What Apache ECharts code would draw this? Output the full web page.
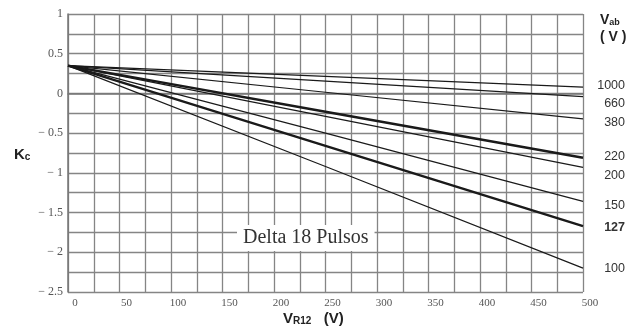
<!DOCTYPE html>
<html><head><meta charset="utf-8">
<script src="https://cdn.jsdelivr.net/npm/echarts@6/dist/echarts.min.js"></script>
<style>html,body{margin:0;padding:0;background:#fff}#c{width:637px;height:328px}</style>
</head><body><div id="c"></div>
<script>
const xVals = [0, 250, 500];
const vabNames = ['1000','660','380','220','200','150','127','100'];
const k1000 = [0.35, 0.215, 0.08];
const k660  = [0.35, 0.155, -0.04];
const k380  = [0.35, 0.015, -0.32];
const k220  = [0.35, -0.23, -0.81];
const k200  = [0.35, -0.29, -0.93];
const k150  = [0.35, -0.50, -1.36];
const k127  = [0.35, -0.66, -1.67];
const k100  = [0.35, -0.92, -2.20];
const seriesVals = [k1000,k660,k380,k220,k200,k150,k127,k100];
const boldSet = ['220','127'];
const labelDy = [-2, 7, 4, -1, 8, 4, 1, 0];

const chart = echarts.init(document.getElementById('c'));
const series = vabNames.map((n,i)=>({
  name:n, type:'line', symbol:'none', animation:false,
  data: xVals.map((x,j)=>[x, seriesVals[i][j]]),
  lineStyle:{color:'#1a1a1a', width: boldSet.includes(n)?2.4:1.2},
  endLabel:{show:true, formatter:'{a}', align:'right', distance:0, offset:[42, labelDy[i]],
    fontFamily:'Liberation Sans', fontSize:12.5, color:'#333', fontWeight: n==='127'?'bold':'normal'}
}));
chart.setOption({
  backgroundColor:'#fff',
  animation:false,
  grid:{left:68, right:54, top:14, bottom:36},
  xAxis:{type:'value', min:0, max:500, interval:25,
    axisLine:{show:true, lineStyle:{color:'#777', width:1.5}},
    axisTick:{show:false},
    splitLine:{show:true, lineStyle:{color:'#858585', width:1.3}},
    axisLabel:{fontFamily:'Liberation Serif', fontSize:11, color:'#555', margin:6,
      padding:[0,0,0,14],
      formatter:v=> (v%50===0)? String(v):''}},
  yAxis:{type:'value', min:-2.5, max:1, interval:0.25,
    axisLine:{show:true, lineStyle:{color:'#777', width:1.5}},
    axisTick:{show:false},
    splitLine:{show:true, lineStyle:{color:'#858585', width:1.3}},
    axisLabel:{fontFamily:'Liberation Serif', fontSize:12, color:'#555', margin:5,
      formatter:v=>{ if (Math.abs(v*2-Math.round(v*2))>1e-6) return ''; return v<0? '− '+String(-v): String(v);}}},
  series: series,
  graphic:[
    {type:'text', left:237, top:225, z:100,
      style:{text:'Delta 18 Pulsos', font:'20px "Liberation Serif"', fill:'#333',
        backgroundColor:'#fff', padding:[3,6,3,6]}},
    {type:'text', left:14, top:147,
      style:{text:'{a|K}{b|c}', rich:{a:{fontFamily:'Liberation Sans', fontWeight:'bold', fontSize:15, fill:'#222'},
        b:{fontFamily:'Liberation Sans', fontWeight:'bold', fontSize:10, fill:'#222', padding:[6,0,0,0]}}}},
    {type:'text', left:283, top:311,
      style:{text:'{a|V}{b|R12}{c|   (V)}', rich:{a:{fontFamily:'Liberation Sans', fontWeight:'bold', fontSize:15, fill:'#222'},
        b:{fontFamily:'Liberation Sans', fontWeight:'bold', fontSize:10, fill:'#222', padding:[5,0,0,0]},
        c:{fontFamily:'Liberation Sans', fontWeight:'bold', fontSize:15, fill:'#222'}}}},
    {type:'text', left:600, top:13,
      style:{text:'{a|V}{b|ab}', rich:{a:{fontFamily:'Liberation Sans', fontWeight:'bold', fontSize:14, fill:'#222'},
        b:{fontFamily:'Liberation Sans', fontWeight:'bold', fontSize:9, fill:'#222', padding:[5,0,0,0]}}}},
    {type:'text', left:600, top:30,
      style:{text:'( V )', font:'bold 14px "Liberation Sans"', fill:'#222'}}
  ]
});
</script></body></html>
